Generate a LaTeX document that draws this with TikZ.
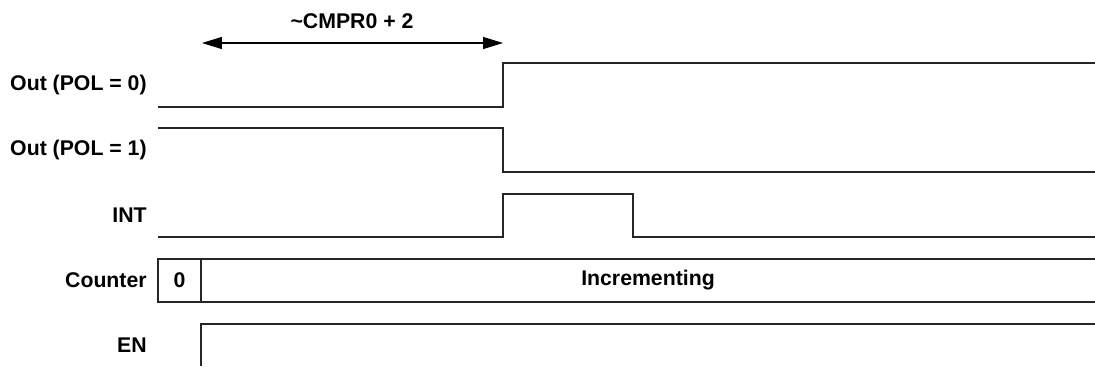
\documentclass[tikz,border=0pt]{standalone}
\usepackage{fontspec}
\setmainfont{Liberation Sans}
\usetikzlibrary{arrows.meta, positioning}
\tikzset{
  sig/.style={line width=0.75pt, draw=black!85},
  siglabel/.style={anchor=east, inner sep=0pt, font=\bfseries\fontsize{12.1}{14}\selectfont},
  valtext/.style={inner sep=0pt, font=\bfseries\fontsize{12.1}{14}\selectfont},
  span/.style={line width=0.75pt, {Triangle[length=0.4cm, width=0.24cm]}-{Triangle[length=0.4cm, width=0.24cm]}}
}

\begin{document}
\begin{tikzpicture}[x=0.02cm, y=-0.02cm]
			\useasboundingbox (0,0) rectangle (1095,366);
			% Signal names:
			\node[siglabel] (Lout0) at (147,85) {Out (POL = 0)};
			\node[siglabel] (Lout1) at (147,150) {Out (POL = 1)};
			\node[siglabel] (Lint) at (147,215.5) {INT};
			\node[siglabel] (Lcnt) at (147,280.5) {Counter};
			\node[siglabel] (Len) at (147,345.5) {EN};
			% Delay span:
			\coordinate (S1) at (202,43);
			\coordinate (S2) at (503,43);
			\draw[span] (S1) -- (S2);
			\node[valtext] (Ldelay) at (352,21) {\textasciitilde CMPR0 + 2};
			% Waveforms:
			\draw[sig] (158,107) -- (503,107) -- (503,63) -- (1095,63);
			\draw[sig] (158,128) -- (503,128) -- (503,172) -- (1095,172);
			\draw[sig] (158,237) -- (503,237) -- (503,194) -- (633,194) -- (633,237) -- (1095,237);
			\draw[sig] (1095,259) -- (158,259) -- (158,302) -- (1095,302);
			\draw[sig] (201,259) -- (201,302);
			\node[valtext] (Vzero) at (179.5,280.5) {0};
			\node[valtext] (Vinc) at (648,280.5) {Incrementing};
			\draw[sig] (201,366) -- (201,324) -- (1095,324);
		\end{tikzpicture}
\end{document}
